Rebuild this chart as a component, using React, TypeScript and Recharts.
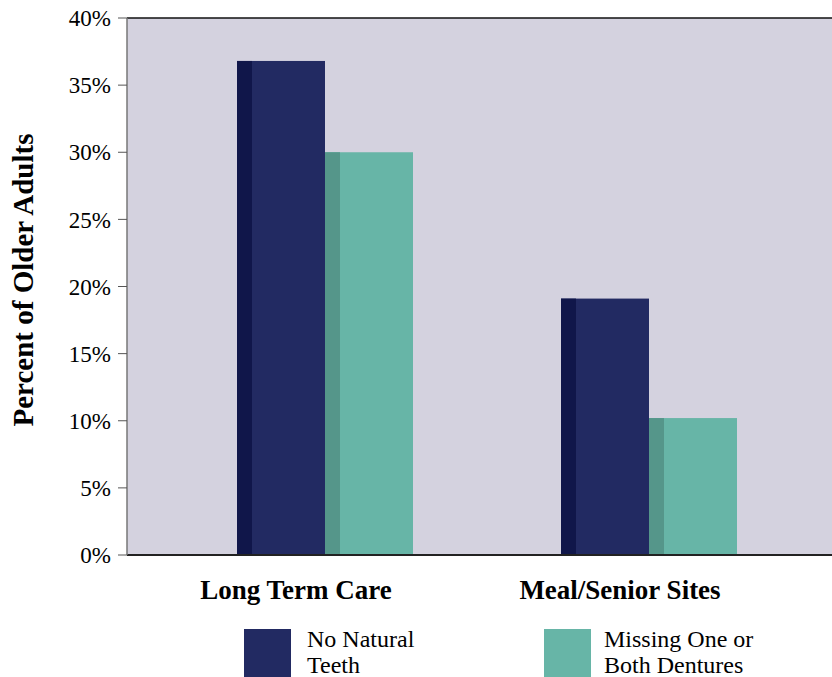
import {
  BarChart,
  Bar,
  XAxis,
  YAxis,
  CartesianGrid,
  ReferenceLine,
  Legend,
  Label,
} from "recharts";

const categories = ["Long Term Care", "Meal/Senior Sites"];
const noNaturalTeeth = [36.8, 19.1];
const missingDentures = [30.0, 10.2];
const yTicks = [0, 5, 10, 15, 20, 25, 30, 35, 40];
const seriesNames = ["No Natural Teeth", "Missing One or Both Dentures"];
const legendLines = [
  ["No Natural", "Teeth"],
  ["Missing One or", "Both Dentures"],
];

const data = categories.map((name, i) => ({
  name,
  noTeeth: noNaturalTeeth[i],
  missing: missingDentures[i],
}));

const NAVY = "#222A62";
const NAVY_DARK = "#10164A";
const TEAL = "#67B5A7";
const TEAL_DARK = "#55968A";
const BG = "#D4D2DF";
const SERIF = "Liberation Serif, Tinos, DejaVu Serif, serif";

const makeShape = (face: string, side: string) => (props: any) => {
  const { x, y, width, height } = props;
  if (!height || height <= 0) return <g />;
  return (
    <g>
      <rect x={x} y={y} width={width} height={height} fill={face} />
      <rect x={x} y={y} width={15} height={height} fill={side} />
    </g>
  );
};

const XTick = (props: any) => {
  const { x, y, payload } = props;
  return (
    <text
      x={x - 29}
      y={y + 36}
      textAnchor="middle"
      style={{ fontFamily: SERIF }}
      fontWeight="bold"
      fontSize={27}
      fill="#000"
    >
      {payload.value}
    </text>
  );
};

const LegendBox = () => {
  const items = [
    { color: NAVY, box: 244, text: 307 },
    { color: TEAL, box: 544, text: 604 },
  ];
  return (
    <div style={{ position: "relative", width: 832, height: 48 }}>
      {items.map((it, i) => (
        <div key={seriesNames[i]}>
          <div
            style={{
              position: "absolute",
              left: it.box,
              top: 0,
              width: 47,
              height: 48,
              background: it.color,
            }}
          />
          <div
            style={{
              position: "absolute",
              left: it.text,
              top: -3,
              fontFamily: SERIF,
              fontSize: 24,
              lineHeight: "26px",
              color: "#000",
              whiteSpace: "nowrap",
            }}
          >
            {legendLines[i].map((l) => (
              <div key={l}>{l}</div>
            ))}
          </div>
        </div>
      ))}
    </div>
  );
};

export default function App() {
  return (
    <div style={{ position: "absolute", left: 0, top: 0, width: 832, height: 677, overflow: "hidden", fontFamily: SERIF }}>
      <BarChart
        width={832}
        height={677}
        data={data}
        margin={{ top: 18, right: 0, bottom: 92, left: 0 }}
        barGap={0}
        barSize={88}
        style={{ fontFamily: SERIF }}
      >
        <CartesianGrid fill={BG} horizontal={false} vertical={false} />
        <XAxis
          dataKey="name"
          height={30}
          axisLine={{ stroke: "#222", strokeWidth: 2 }}
          tickLine={false}
          tick={<XTick />}
          padding={{ left: 36, right: 21 }}
          interval={0}
        />
        <YAxis
          width={127}
          domain={[0, 40]}
          ticks={yTicks}
          interval={0}
          tickFormatter={(v: number) => `${v}%`}
          tickSize={9}
          tickMargin={7}
          axisLine={{ stroke: "#777", strokeWidth: 1.5 }}
          tickLine={{ stroke: "#555" }}
          tick={{ fontFamily: SERIF, fontSize: 23, fill: "#000", style: { fontFamily: SERIF } }}
        >
          <Label
            content={() => (
              <text
                x={23}
                y={280}
                transform="rotate(-90, 23, 280)"
                textAnchor="middle"
                dominantBaseline="central"
                style={{ fontFamily: SERIF }}
                fontWeight="bold"
                fontSize={29}
                fill="#000"
              >
                Percent of Older Adults
              </text>
            )}
          />
        </YAxis>
        <ReferenceLine y={40} stroke="#111" strokeWidth={1.5} />
        <Bar
          dataKey="noTeeth"
          name={seriesNames[0]}
          fill={NAVY}
          shape={makeShape(NAVY, NAVY_DARK)}
          isAnimationActive={false}
        />
        <Bar
          dataKey="missing"
          name={seriesNames[1]}
          fill={TEAL}
          shape={makeShape(TEAL, TEAL_DARK)}
          isAnimationActive={false}
        />
        <Legend
          layout="horizontal"
          verticalAlign="middle"
          align="center"
          wrapperStyle={{ top: 629, left: 0, width: 832 }}
          content={<LegendBox />}
        />
      </BarChart>
    </div>
  );
}
